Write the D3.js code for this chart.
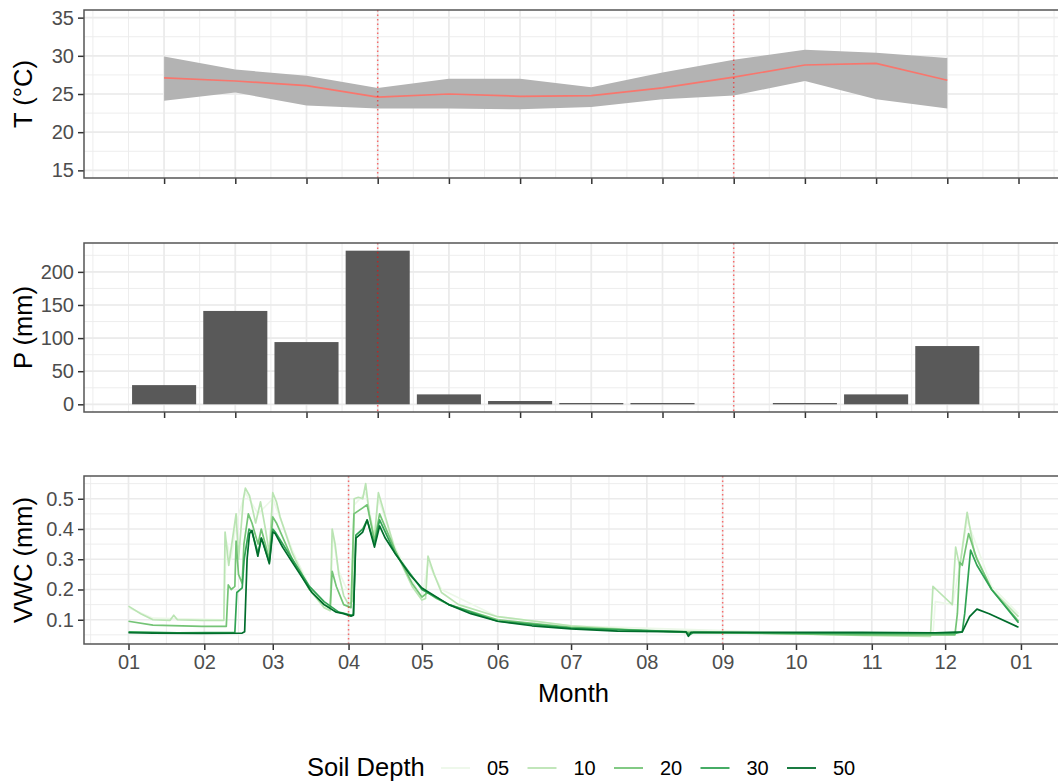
<!DOCTYPE html>
<html>
<head>
<meta charset="utf-8">
<script src="https://cdn.jsdelivr.net/npm/d3@7"></script>
<style>
  body { margin: 0; background: #fff; }
  svg { display: block; font-family: "Liberation Sans", Arial, sans-serif; }
</style>
</head>
<body>
<div id="chart"></div>
<script>
// monthly climate
const months = [1, 2, 3, 4, 5, 6, 7, 8, 9, 10, 11, 12];
const tempMean = [27.1, 26.7, 26.1, 24.6, 25.0, 24.7, 24.8, 25.8, 27.2, 28.8, 29.0, 26.8];
const tempHigh = [29.9, 28.2, 27.4, 25.8, 27.0, 27.0, 25.9, 27.8, 29.5, 30.8, 30.4, 29.7];
const tempLow = [24.1, 25.2, 23.5, 23.1, 23.1, 23.0, 23.3, 24.3, 24.8, 26.7, 24.3, 23.1];
const precip = [29, 141, 94, 232, 15, 5, 2, 2, 0, 2, 15, 88];
const markMonths = [4, 9];
const markDates = ["2019-04-01", "2019-09-01"];

// soil moisture, [day of year, vwc]
const depths = ["05", "10", "20", "30", "50"];
const depthColors = ["#edf8e9", "#bae4b3", "#74c476", "#31a354", "#006d2c"];
const vwc05 = [[0,0.14],[10,0.105],[39,0.1],[40,0.36],[42,0.3],[44,0.42],[47.8,0.52],[53,0.45],[59,0.5],[67,0.33],[74,0.21],[82.5,0.13],[83.5,0.38],[86,0.26],[91,0.17],[92.3,0.48],[97,0.52],[100.6,0.38],[102.2,0.5],[109,0.34],[120,0.17],[122.5,0.29],[128,0.2],[151,0.11],[181,0.08],[300,0.05],[329,0.05],[330,0.16],[337,0.15],[340,0.28],[343,0.43],[353,0.21],[364,0.12]];
const vwc10 = [[0,0.145],[5,0.12],[10,0.1],[17,0.098],[18.5,0.115],[20,0.1],[30,0.098],[39,0.098],[39.5,0.39],[41,0.28],[44,0.45],[45,0.3],[47,0.5],[47.8,0.535],[49.5,0.51],[52,0.42],[54,0.49],[56,0.4],[57.6,0.32],[59,0.52],[60.5,0.49],[62,0.44],[67,0.32],[74,0.2],[80,0.14],[82.5,0.13],[83.3,0.4],[84.5,0.35],[86,0.25],[88,0.18],[90,0.15],[91.5,0.16],[92.3,0.5],[94,0.505],[95.8,0.5],[97,0.55],[98.5,0.45],[100.6,0.37],[102.2,0.52],[104,0.47],[109,0.33],[116,0.21],[120,0.165],[121.5,0.17],[122.5,0.31],[125,0.25],[128,0.19],[135,0.15],[151,0.11],[181,0.08],[210,0.065],[300,0.048],[328,0.045],[329,0.21],[331,0.195],[336.9,0.15],[338.3,0.34],[340,0.275],[343,0.455],[346,0.32],[353,0.2],[364,0.11]];
const vwc20 = [[0,0.095],[10,0.082],[30,0.078],[40,0.078],[40.8,0.215],[42,0.2],[43.5,0.21],[44,0.36],[45,0.25],[46.5,0.22],[47.2,0.35],[49,0.45],[50.5,0.42],[53,0.35],[54.3,0.4],[57.6,0.3],[59,0.44],[60.5,0.42],[67,0.3],[74,0.2],[80,0.15],[82.5,0.14],[83.3,0.26],[85,0.21],[88,0.15],[91,0.14],[92.2,0.45],[95.8,0.47],[97.6,0.48],[100.6,0.36],[102.7,0.45],[109,0.33],[116,0.22],[120,0.175],[122.3,0.19],[126,0.17],[131,0.15],[151,0.1],[181,0.075],[228,0.058],[300,0.05],[338,0.05],[339,0.12],[340,0.29],[341,0.28],[343.6,0.385],[347,0.3],[353,0.2],[364,0.095]];
const vwc30 = [[0,0.06],[20,0.057],[43.5,0.058],[44.3,0.19],[46.5,0.205],[47.3,0.3],[49.3,0.4],[50.5,0.39],[53,0.32],[54.3,0.37],[57.6,0.29],[59,0.4],[60,0.39],[67,0.3],[74,0.21],[80,0.16],[86,0.125],[91,0.115],[92,0.118],[93,0.38],[95.8,0.4],[97.6,0.43],[100.6,0.35],[102.7,0.43],[109,0.32],[120,0.2],[131,0.15],[151,0.095],[181,0.072],[228,0.06],[229.5,0.05],[231,0.058],[300,0.055],[338,0.055],[341,0.06],[342,0.12],[344.4,0.33],[347,0.28],[353,0.2],[364,0.09]];
const vwc50 = [[0,0.057],[10,0.056],[30,0.055],[46.5,0.056],[47.5,0.06],[48.5,0.3],[49.5,0.385],[50.5,0.395],[52.9,0.31],[54.3,0.37],[55,0.355],[57.6,0.285],[59,0.39],[60,0.385],[63,0.34],[67,0.29],[71,0.24],[75,0.19],[80,0.15],[85,0.125],[88,0.12],[91,0.112],[92,0.115],[93,0.37],[95.8,0.39],[97.6,0.43],[100.6,0.34],[102.7,0.41],[105,0.37],[109,0.32],[115,0.25],[120,0.205],[131,0.15],[140,0.12],[151,0.095],[165,0.08],[181,0.07],[200,0.062],[228,0.06],[229,0.045],[230,0.058],[260,0.058],[300,0.058],[330,0.057],[341,0.06],[344,0.11],[347,0.135],[352,0.12],[364,0.075]];
const vwcSeries = [vwc05, vwc10, vwc20, vwc30, vwc50];

const width = 1058, height = 782;
const margin = { left: 84 };
const innerW = 979;
const panels = [
  { top: 10, h: 168 },
  { top: 243, h: 169 },
  { top: 476, h: 168 }
];

const gridCol = "#ebebeb";
const tickCol = "#4d4d4d";

const expand = ([a, b], f = 0.05) => [a - (b - a) * f, b + (b - a) * f];
const year0 = Date.UTC(2019, 0, 1);
const toDate = (d) => new Date(year0 + d * 864e5);

const svg = d3.select("#chart").append("svg")
  .attr("width", width)
  .attr("height", height);

// scales
const xMonth = d3.scaleLinear().domain(expand([0.5, 13])).range([0, innerW]);
const xDate = d3.scaleUtc()
  .domain(expand([0, 364]).map(toDate))
  .range([0, innerW]);

const yT = d3.scaleLinear().domain(expand([15, 35])).range([panels[0].h, 0]);
const yP = d3.scaleLinear().domain(expand([0, d3.max(precip)])).range([panels[1].h, 0]);
const allVwc = vwcSeries.flat().map(d => d[1]);
const yV = d3.scaleLinear().domain(expand(d3.extent(allVwc))).range([panels[2].h, 0]);

function makePanel(p, i) {
  const g = svg.append("g").attr("transform", `translate(${margin.left},${p.top})`);
  g.append("clipPath").attr("id", "clip" + i)
    .append("rect").attr("width", innerW).attr("height", p.h);
  return g;
}

function grid(g, h, xs, xMinor, xMajor, ys, yMinor, yMajor) {
  const gg = g.append("g");
  gg.selectAll(".vmin").data(xMinor).join("line")
    .attr("x1", xs).attr("x2", xs).attr("y1", 0).attr("y2", h)
    .attr("stroke", gridCol).attr("stroke-width", 0.9);
  gg.selectAll(".hmin").data(yMinor).join("line")
    .attr("x1", 0).attr("x2", innerW).attr("y1", ys).attr("y2", ys)
    .attr("stroke", gridCol).attr("stroke-width", 0.9);
  gg.selectAll(".vmaj").data(xMajor).join("line")
    .attr("x1", xs).attr("x2", xs).attr("y1", 0).attr("y2", h)
    .attr("stroke", gridCol).attr("stroke-width", 1.7);
  gg.selectAll(".hmaj").data(yMajor).join("line")
    .attr("x1", 0).attr("x2", innerW).attr("y1", ys).attr("y2", ys)
    .attr("stroke", gridCol).attr("stroke-width", 1.7);
}

function styleAxis(g) {
  g.select(".domain").remove();
  g.selectAll(".tick line").attr("stroke", "#333").attr("stroke-width", 1.5);
  g.selectAll(".tick text").attr("fill", tickCol).style("font-size", "20px");
}

function frame(g, h) {
  g.append("rect")
    .attr("width", innerW).attr("height", h)
    .attr("fill", "none").attr("stroke", "#555").attr("stroke-width", 1.5);
}

function markLines(g, xs, data, h) {
  g.selectAll(".mark").data(data).join("line")
    .attr("x1", xs).attr("x2", xs)
    .attr("y1", 0).attr("y2", h)
    .attr("stroke", "red").attr("stroke-opacity", 0.55)
    .attr("stroke-width", 1.5).attr("stroke-dasharray", "1.5,3");
}

function yTitle(text, p) {
  svg.append("text")
    .attr("transform", `translate(32,${p.top + p.h / 2}) rotate(-90)`)
    .attr("text-anchor", "middle")
    .style("font-size", "25.5px")
    .attr("fill", "#000")
    .text(text);
}

const monthMajor = d3.range(1, 14);
const monthMinor = d3.range(0, 14, 0.5);

// ---- temperature
{
  const p = panels[0];
  const g = makePanel(p, 0);
  grid(g, p.h, d => xMonth(d), monthMinor, monthMajor, d => yT(d),
    d3.range(15, 36, 2.5), d3.range(15, 36, 5));

  const area = d3.area()
    .x((d, i) => xMonth(months[i]))
    .y0((d, i) => yT(tempLow[i]))
    .y1((d, i) => yT(tempHigh[i]));
  g.append("path").attr("d", area(months)).attr("fill", "#b3b3b3");

  const line = d3.line()
    .x((d, i) => xMonth(months[i]))
    .y(d => yT(d));
  g.append("path").attr("d", line(tempMean))
    .attr("fill", "none").attr("stroke", "#F8766D").attr("stroke-width", 1.7);

  markLines(g, d => xMonth(d), markMonths, p.h);

  g.append("g").call(d3.axisLeft(yT).tickValues([15, 20, 25, 30, 35]).tickSize(6).tickPadding(4))
    .call(styleAxis);
  g.append("g").attr("transform", `translate(0,${p.h})`)
    .call(d3.axisBottom(xMonth).tickValues(monthMajor).tickFormat("").tickSize(6))
    .call(styleAxis);
  frame(g, p.h);
  yTitle("T (°C)", p);
}

// ---- precipitation
{
  const p = panels[1];
  const g = makePanel(p, 1);
  grid(g, p.h, d => xMonth(d), monthMinor, monthMajor, d => yP(d),
    d3.range(0, 241, 25), d3.range(0, 201, 50));

  g.selectAll(".bar").data(months).join("rect")
    .attr("x", d => xMonth(d - 0.45))
    .attr("width", d => xMonth(d + 0.45) - xMonth(d - 0.45))
    .attr("y", (d, i) => yP(precip[i]))
    .attr("height", (d, i) => yP(0) - yP(precip[i]))
    .attr("fill", "#595959");

  markLines(g, d => xMonth(d), markMonths, p.h);

  g.append("g").call(d3.axisLeft(yP).tickValues([0, 50, 100, 150, 200]).tickSize(6).tickPadding(4))
    .call(styleAxis);
  g.append("g").attr("transform", `translate(0,${p.h})`)
    .call(d3.axisBottom(xMonth).tickValues(monthMajor).tickFormat("").tickSize(6))
    .call(styleAxis);
  frame(g, p.h);
  yTitle("P (mm)", p);
}

// ---- soil water content
{
  const p = panels[2];
  const g = makePanel(p, 2);
  const dMajor = d3.utcMonth.range(new Date(Date.UTC(2018, 11, 1)), new Date(Date.UTC(2020, 2, 1)));
  const dMinor = d3.pairs(dMajor, (a, b) => new Date((+a + +b) / 2));
  const [d0, d1] = xDate.domain();
  const inDom = d => d >= d0 && d <= d1;
  grid(g, p.h, d => xDate(d), dMinor.filter(inDom), dMajor.filter(inDom), d => yV(d),
    [0.05, 0.15, 0.25, 0.35, 0.45, 0.55], [0.1, 0.2, 0.3, 0.4, 0.5]);

  const line = d3.line()
    .x(d => xDate(toDate(d[0])))
    .y(d => yV(d[1]));
  g.append("g").attr("clip-path", "url(#clip2)")
    .selectAll("path").data(vwcSeries).join("path")
    .attr("d", line)
    .attr("fill", "none")
    .attr("stroke", (d, i) => depthColors[i])
    .attr("stroke-width", 1.7)
    .attr("stroke-linejoin", "round");

  markLines(g, d => xDate(new Date(d)), markDates, p.h);

  g.append("g").call(d3.axisLeft(yV).tickValues([0.1, 0.2, 0.3, 0.4, 0.5]).tickFormat(d3.format(".1f")).tickSize(6).tickPadding(4))
    .call(styleAxis);
  g.append("g").attr("transform", `translate(0,${p.h})`)
    .call(d3.axisBottom(xDate).ticks(d3.utcMonth.every(1)).tickFormat(d3.utcFormat("%m")).tickSize(6).tickPadding(5))
    .call(styleAxis);
  frame(g, p.h);
  yTitle("VWC (mm)", p);

  svg.append("text")
    .attr("x", margin.left + innerW / 2).attr("y", 702)
    .attr("text-anchor", "middle")
    .style("font-size", "25.5px")
    .text("Month");
}

// ---- legend
{
  const legend = svg.append("g").attr("transform", "translate(307,768)");
  legend.append("text").attr("y", 8).style("font-size", "25.5px").text("Soil Depth");
  const items = legend.selectAll(".item").data(depths).join("g")
    .attr("transform", (d, i) => `translate(${134 + i * 86.5},0)`);
  items.append("line")
    .attr("x1", 0).attr("x2", 29)
    .attr("stroke", (d, i) => depthColors[i]).attr("stroke-width", 1.8);
  items.append("text")
    .attr("x", 46).attr("y", 7)
    .style("font-size", "20px")
    .attr("fill", "#000")
    .text(d => d);
}
</script>
</body>
</html>
